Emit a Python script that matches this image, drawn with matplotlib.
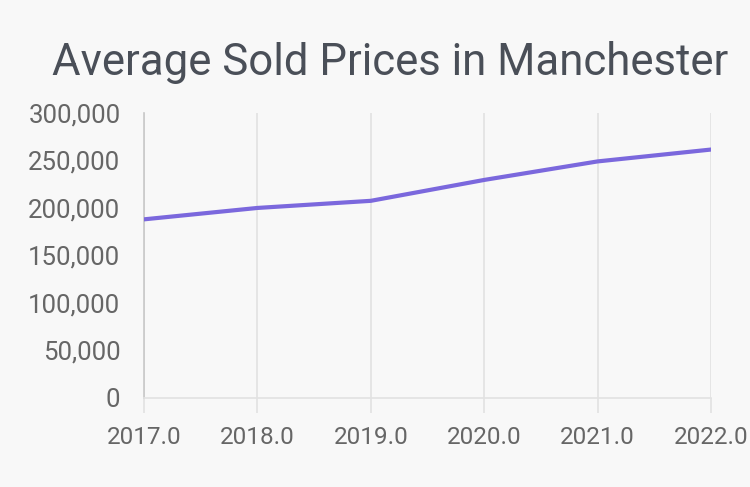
import matplotlib
matplotlib.use("Agg")
import matplotlib.pyplot as plt
from matplotlib.ticker import FuncFormatter

years = [2017, 2018, 2019, 2020, 2021, 2022]
prices = [188000, 200000, 207500, 229500, 249000, 261500]

plt.rcParams["font.family"] = ["Roboto", "DejaVu Sans"]

fig = plt.figure(figsize=(7.5, 4.87), dpi=100)
fig.patch.set_facecolor("#f8f8f8")
ax = fig.add_axes([0.192, 0.183, 0.756, 0.585])
ax.set_facecolor("#f8f8f8")

ax.plot(years, prices, color="#7b68dd", linewidth=3, solid_joinstyle="round",
        solid_capstyle="round", zorder=3)

ax.set_xlim(2017, 2022)
ax.set_ylim(0, 300000)
ax.set_xticks(years)
ax.set_yticks(range(0, 300001, 50000))
ax.xaxis.set_major_formatter(FuncFormatter(lambda v, p: f"{v:.1f}"))
ax.yaxis.set_major_formatter(FuncFormatter(lambda v, p: f"{int(v):,}"))

ax.grid(axis="x", color="#e2e2e2", linewidth=1.2)
ax.grid(axis="y", visible=False)
for s in ["top", "right"]:
    ax.spines[s].set_visible(False)
ax.spines["left"].set_color("#c8c8c8")
ax.spines["left"].set_linewidth(1.2)
ax.spines["bottom"].set_color("#e2e2e2")
ax.spines["bottom"].set_linewidth(1.2)

ax.tick_params(axis="x", length=11, color="#e2e2e2", width=1.2, labelsize=17.5,
               labelcolor="#666666", pad=9)
ax.tick_params(axis="y", length=0, labelsize=18.5, labelcolor="#666666", pad=17)

fig.text(0.52, 0.872, "Average Sold Prices in Manchester", ha="center", va="center",
         fontsize=31.5, color="#4a4f58")

fig.savefig("out.png", dpi=100, facecolor=fig.get_facecolor())
